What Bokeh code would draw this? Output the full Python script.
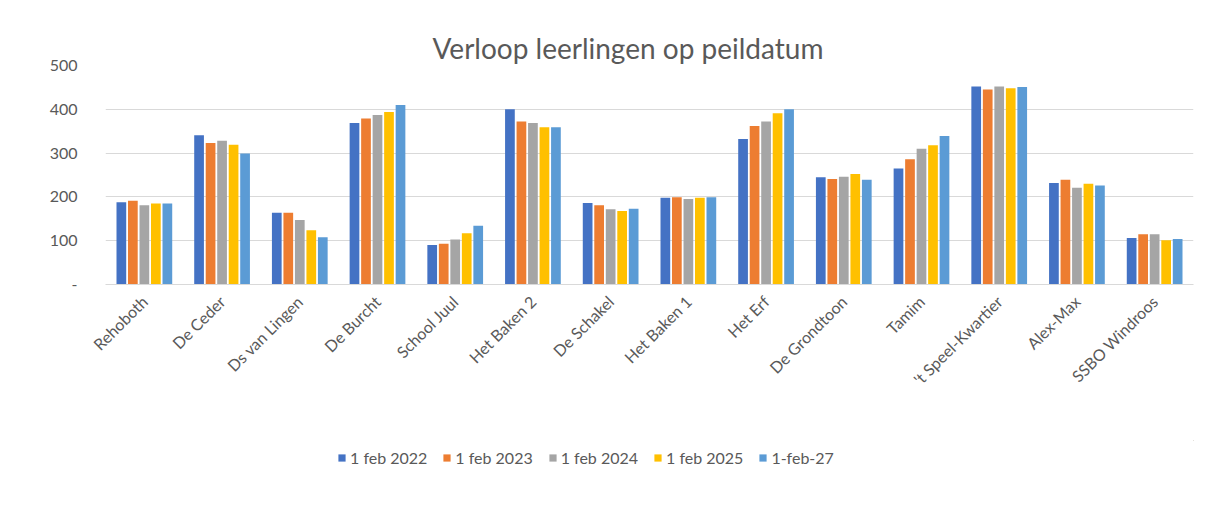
from math import pi
from bokeh.plotting import figure
from bokeh.layouts import column
from bokeh.models import ColumnDataSource, Legend, LegendItem, FactorRange
from bokeh.transform import dodge
from bokeh.embed import file_html
from bokeh.resources import INLINE

schools = ["Rehoboth", "De Ceder", "Ds van Lingen", "De Burcht", "School Juul",
           "Het Baken 2", "De Schakel", "Het Baken 1", "Het Erf", "De Grondtoon",
           "Tamim", "'t Speel-Kwartier", "Alex-Max", "SSBO Windroos"]
series_names = ["1 feb 2022", "1 feb 2023", "1 feb 2024", "1 feb 2025", "1-feb-27"]
feb_2022 = [188, 341, 164, 369, 90, 400, 186, 198, 332, 245, 265, 452, 232, 106]
feb_2023 = [191, 323, 164, 379, 93, 372, 181, 199, 362, 241, 286, 445, 239, 115]
feb_2024 = [181, 328, 147, 387, 103, 369, 172, 195, 372, 246, 310, 452, 221, 115]
feb_2025 = [185, 319, 124, 394, 117, 359, 168, 198, 391, 252, 318, 448, 230, 101]
feb_2027 = [185, 299, 108, 410, 134, 359, 173, 199, 400, 239, 339, 451, 226, 104]
y_ticks = [0, 100, 200, 300, 400, 500]

colors = ["#4472C4", "#ED7D31", "#A5A5A5", "#FFC000", "#5B9BD5"]
FONT = "Lato"
TXT = "#595959"

src = ColumnDataSource(dict(school=schools, s0=feb_2022, s1=feb_2023, s2=feb_2024,
                            s3=feb_2025, s4=feb_2027))

p = figure(width=1205, height=440, x_range=FactorRange(*schools, range_padding=0),
           y_range=(0, 500), output_backend="svg", toolbar_location=None,
           min_border_left=105, min_border_right=12, min_border_top=65, min_border_bottom=156,
           title="Verloop leerlingen op peildatum")

offsets = [-0.296, -0.148, 0.0, 0.148, 0.296]
for i, col in enumerate(colors):
    p.vbar(x=dodge("school", offsets[i], range=p.x_range), top=f"s{i}", width=0.125,
           source=src, fill_color=col, line_color=None)

p.title.align = "left"
p.title.text_font = FONT
p.title.text_font_size = "28px"
p.title.text_font_style = "normal"
p.title.text_color = TXT
p.title.offset = 327
p.title.standoff = 2

p.outline_line_color = None
p.xgrid.grid_line_color = None
p.ygrid.grid_line_color = "#d9d9d9"
p.ygrid.ticker = y_ticks

p.yaxis.ticker = y_ticks
p.yaxis.major_label_overrides = {0: "-"}
p.yaxis.axis_line_color = None
p.yaxis.major_tick_line_color = None
p.yaxis.minor_tick_line_color = None
p.yaxis.major_label_text_font = FONT
p.yaxis.major_label_text_font_size = "16px"
p.yaxis.major_label_text_color = TXT
p.yaxis.major_label_standoff = 22

p.xaxis.axis_line_color = "#d9d9d9"
p.xaxis.major_tick_line_color = None
p.xaxis.minor_tick_line_color = None
p.xaxis.major_label_orientation = pi / 4
p.xaxis.major_label_text_font = FONT
p.xaxis.major_label_text_font_size = "16px"
p.xaxis.major_label_text_color = TXT
p.xaxis.major_label_standoff = 8

# legend strip below the chart (glyph renderers kept outside the visible range)
lg = figure(width=1205, height=74, x_range=(0, 1), y_range=(0, 1), output_backend="svg",
            toolbar_location=None, x_axis_type=None, y_axis_type=None,
            min_border=0, outline_line_color=None)
lg.xgrid.grid_line_color = None
lg.ygrid.grid_line_color = None
items = []
for name, col in zip(series_names, colors):
    r = lg.vbar(x=[5], top=[5], bottom=[4], width=0.1, fill_color=col, line_color=None)
    items.append(LegendItem(label=name, renderers=[r]))
legend = Legend(items=items, orientation="horizontal", location=(232, 47),
                label_text_font=FONT, label_text_font_size="16px", label_text_color=TXT,
                glyph_width=9, glyph_height=9, spacing=15, label_standoff=4,
                padding=4, margin=0, border_line_color=None, background_fill_alpha=0)
lg.add_layout(legend, "center")

layout = column(p, lg, spacing=0)
open("out.html", "w").write(file_html(layout, INLINE))
